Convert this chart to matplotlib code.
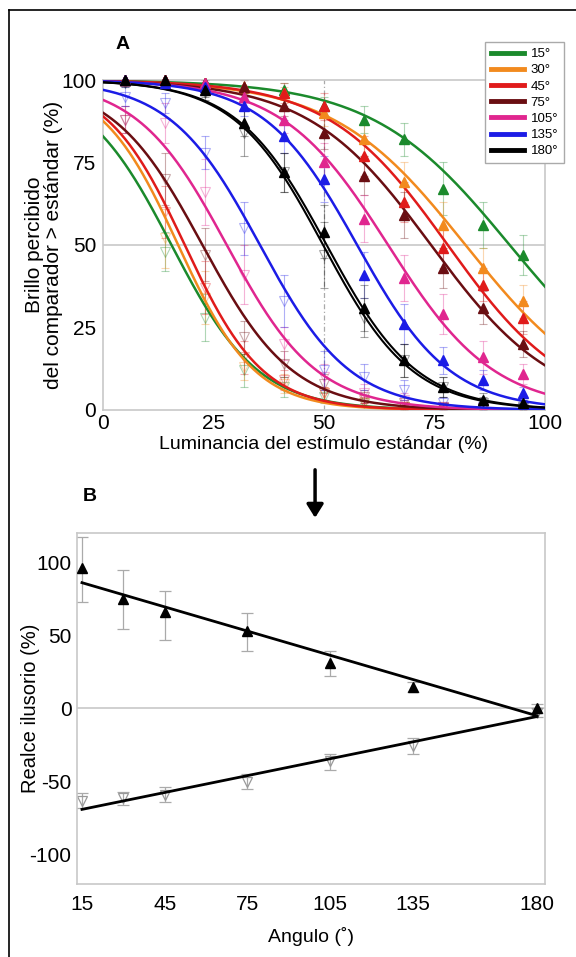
import numpy as np
import matplotlib
matplotlib.use("Agg")
import matplotlib.pyplot as plt
from matplotlib.lines import Line2D

plt.rcParams['font.family'] = ['Liberation Sans', 'DejaVu Sans']
plt.rcParams['axes.unicode_minus'] = False

# ---- panel A data ----
angles = ['15°', '30°', '45°', '75°', '105°', '135°', '180°']
colors = ['#1b8a2c', '#f28a1e', '#e01b1b', '#6a0e12', '#e0268f', '#1c1ce6', '#000000']
lum = [5, 14, 23, 32, 41, 50, 59, 68, 77, 86, 95]

# fitted psychometric curves (logistic): centre and spread
mu_up = [92, 82, 78, 74.2, 64.5, 57.5, 50.6]
s_up = [15.5, 15, 13.5, 13.9, 12, 10.5, 10.2]
mu_dn = [15.5, 17, 18.5, 22.5, 28, 35.5, 49.8]
s_dn = [9.8, 8.7, 8.85, 10.2, 10.2, 10.2, 10.1]

up_vals = [
    [100, 100, 99, 98, 97, 92, 88, 82, 67, 56, 47],
    [100, 100, 99, 98, 96, 90, 82, 69, 56, 43, 33],
    [100, 100, 99, 98, 96, 92, 77, 63, 49, 38, 28],
    [100, 100, 99, 98, 92, 84, 71, 59, 43, 31, 20],
    [100, 100, 99, 95, 88, 75, 58, 40, 29, 16, 11],
    [100, 99, 98, 92, 83, 70, 41, 26, 15, 9, 5],
    [100, 100, 97, 87, 72, 54, 31, 15, 7, 3, 2],
]
up_err = [
    [1, 1, 1, 2, 2, 3, 4, 5, 8, 7, 6],
    [1, 1, 1, 2, 2, 4, 5, 6, 7, 6, 5],
    [1, 1, 1, 2, 3, 4, 6, 6, 6, 5, 5],
    [1, 1, 1, 2, 3, 5, 6, 7, 6, 5, 4],
    [1, 1, 1, 2, 4, 6, 7, 7, 6, 5, 3],
    [1, 1, 2, 3, 5, 7, 7, 6, 4, 3, 2],
    [1, 1, 2, 4, 6, 8, 7, 5, 3, 2, 1],
]
nan = np.nan
dn_vals = [
    [nan, 48, 28, 12, 7, 4, 2, 1, 0.5, 0, 0],
    [nan, 52, 34, 13, 8, 5, 2, 1, 0.5, 0, 0],
    [nan, 60, 37, 16, 9, 5, 3, 1, 0.5, 0, 0],
    [88, 70, 47, 22, 14, 8, 4, 2, 1, 0.5, 0],
    [88, 87, 66, 41, 20, 10, 5, 3, 1, 0.5, 0],
    [95, 93, 78, 55, 33, 12, 10, 6, 2, 1, 0.5],
    [99, 99, 96, 84, 72, 47, 28, 15, 7, 2, 1],
]
dn_err = [
    [0, 6, 7, 5, 3, 2, 1, 1, 1, 1, 1],
    [0, 9, 8, 4, 3, 2, 1, 1, 1, 1, 1],
    [0, 8, 8, 5, 3, 2, 1, 1, 1, 1, 1],
    [4, 8, 8, 5, 4, 3, 2, 1, 1, 1, 1],
    [4, 6, 10, 9, 5, 4, 3, 2, 1, 1, 1],
    [3, 3, 5, 8, 8, 6, 4, 3, 2, 1, 1],
    [1, 1, 2, 7, 6, 10, 6, 5, 3, 2, 1],
]

# ---- panel B data ----
ang = [15, 30, 45, 75, 105, 135, 180]
enh = [96, 75, 66, 53, 31, 15, 0.5]
enh_lo = [73, 54, 47, 39, 22, 11, -3]
enh_hi = [117, 95, 80, 65, 39, 18, 3]
red = [-63, -61, -59, -50, -36, -26, -3]
red_lo = [-68, -66, -64, -55, -42, -31, -6]
red_hi = [-58, -57, -54, -45, -31, -20, 0]
fit_x = [15, 180]
fit_enh = [86, -5]
fit_red = [-69, -5.5]

frame_c = '#c8c8c8'

fig = plt.figure(figsize=(5.76, 9.57), dpi=100)

# ---------- panel A ----------
ax = fig.add_axes([0.1788, 0.5716, 0.7674, 0.3448])
ax.set_xlim(0, 100)
ax.set_ylim(0, 100)
ax.axhline(50, color=frame_c, lw=1.2, zorder=0)
ax.plot([50, 50], [0, 100], color='#aaaaaa', lw=0.9, ls=(0, (4, 2, 1, 2)), zorder=0)

xx = np.linspace(0, 100, 400)
for i in range(len(angles)):
    c = colors[i]
    # error bars and markers
    ax.errorbar(lum, dn_vals[i], yerr=dn_err[i], fmt='v', ms=6.5, mfc='none',
                mec=c, ecolor=c, alpha=0.35, elinewidth=0.8, capsize=3, capthick=0.8,
                mew=0.8, zorder=2)
    ax.errorbar(lum, up_vals[i], yerr=up_err[i], fmt='none', ecolor=c, alpha=0.35,
                elinewidth=0.8, capsize=3, capthick=0.8, zorder=2)
    yu = 100 / (1 + np.exp((xx - mu_up[i]) / s_up[i]))
    yd = 100 / (1 + np.exp((xx - mu_dn[i]) / s_dn[i]))
    if i == len(angles) - 1:
        for y in (yu, yd):
            ax.plot(xx, y, color=c, lw=1.5, zorder=3)
    else:
        ax.plot(xx, yu, color=c, lw=1.8, zorder=3)
        ax.plot(xx, yd, color=c, lw=1.8, zorder=3)
    ax.plot(lum, up_vals[i], '^', color=c, ms=6.5, zorder=4, clip_on=False)

for sp in ax.spines.values():
    sp.set_color(frame_c)
    sp.set_linewidth(1.2)
ax.tick_params(length=0, labelsize=15)
ax.tick_params(axis='x', pad=3)
ax.tick_params(axis='y', pad=5)
ax.set_xticks([0, 25, 50, 75, 100])
ax.set_yticks([0, 25, 50, 75, 100])
ax.set_xlabel('Luminancia del estímulo estándar (%)', fontsize=14, labelpad=2)
ax.set_ylabel('Brillo percibido\ndel comparador > estándar (%)', fontsize=15,
              linespacing=1.0)
ax.yaxis.set_label_coords(-0.09, 0.5)

handles = [Line2D([0], [0], color=colors[i], lw=3.5) for i in range(len(angles))]
leg = fig.legend(handles, angles, loc='upper right', bbox_to_anchor=(0.979, 0.956),
                 bbox_transform=fig.transFigure, fontsize=9.5, handlelength=2.5,
                 handletextpad=0.5, labelspacing=0.3, borderpad=0.45, borderaxespad=0,
                 fancybox=False, framealpha=1, edgecolor='#aaaaaa')
leg.get_frame().set_linewidth(1.0)

fig.text(0.212, 0.953, 'A', fontsize=14, fontweight='bold', ha='center', va='center')

# ---------- arrow ----------
fig.add_artist(matplotlib.patches.FancyArrowPatch(
    (0.547, 0.512), (0.547, 0.456), transform=fig.transFigure,
    arrowstyle='-|>,head_length=8,head_width=5', color='black', lw=2.5))

fig.text(0.156, 0.4807, 'B', fontsize=14, fontweight='bold', ha='center', va='center')

# ---------- panel B ----------
bx = fig.add_axes([0.1337, 0.0763, 0.8125, 0.3668])
bx.set_xlim(13.2, 182.9)
bx.set_ylim(-120, 120)
bx.axhline(0, color=frame_c, lw=1.2, zorder=0)

bx.errorbar(ang, red, yerr=[np.subtract(red, red_lo), np.subtract(red_hi, red)],
            fmt='v', ms=7, mfc='none', mec='#999999', ecolor='#aaaaaa', mew=0.9,
            elinewidth=0.9, capsize=4, capthick=0.9, zorder=2)
bx.errorbar(ang, enh, yerr=[np.subtract(enh, enh_lo), np.subtract(enh_hi, enh)],
            fmt='none', ecolor='#aaaaaa', elinewidth=0.9, capsize=4, capthick=0.9, zorder=2)
bx.plot(fit_x, fit_enh, color='black', lw=2, zorder=3)
bx.plot(fit_x, fit_red, color='black', lw=2, zorder=3)
bx.plot(ang, enh, '^', color='black', ms=7, zorder=4)

for sp in bx.spines.values():
    sp.set_color(frame_c)
    sp.set_linewidth(1.2)
bx.tick_params(length=0, labelsize=15)
bx.tick_params(axis='x', pad=8)
bx.tick_params(axis='y', pad=4)
bx.set_xticks([15, 45, 75, 105, 135, 180])
bx.set_yticks([100, 50, 0, -50, -100])
bx.set_xlabel('Angulo (˚)', fontsize=14, labelpad=9)
bx.set_ylabel('Realce ilusorio (%)', fontsize=14.5)
bx.yaxis.set_label_coords(-0.08, 0.5)

# outer border of the figure
fig.add_artist(Line2D([0.0156, 0.0156], [0, 0.9896], color='black', lw=1.2,
                      transform=fig.transFigure))
fig.add_artist(Line2D([0.0156, 1.0], [0.9896, 0.9896], color='black', lw=1.2,
                      transform=fig.transFigure))

fig.savefig('out.png', dpi=100)
